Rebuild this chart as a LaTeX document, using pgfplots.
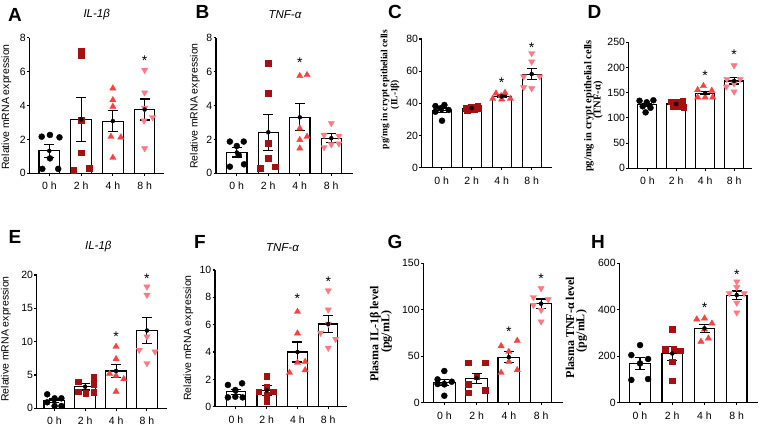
\documentclass[border=0pt]{standalone}
\usepackage{fontspec}
\setmainfont{Liberation Sans}
\newfontfamily\serifbf{Liberation Serif}
\usepackage{pgfplots}
\pgfplotsset{compat=1.18}

\definecolor{colB}{RGB}{166,16,16}
\definecolor{colC}{RGB}{250,65,65}
\definecolor{colD}{RGB}{255,120,130}

\pgfplotsset{
  panel/.style={scale only axis, clip=false, anchor=south west,
    axis x line*=bottom, axis y line*=left,
    axis line style={line width=1.1pt, black},
    tick style={black, line width=1.1pt}, tick align=outside, major tick length=2.5pt,
    xtick={0,1,2,3}, xticklabels={0 h,2 h,4 h,8 h}, ymin=0,
    ticklabel style={font=\fontsize{10.5}{10.5}\selectfont},
    yticklabel style={inner xsep=1pt}, xticklabel style={yshift=-3pt},
    /pgf/number format/assume math mode=true, scaled y ticks=false},
  barplot/.style={ybar, bar width=#1, fill=white, draw=black, line width=1.1pt},
  errplot/.style={only marks, mark=none, black,
    error bars/.cd, y dir=both, y explicit,
    error bar style={line width=1.1pt, black},
    error mark options={rotate=90, mark size=5pt, line width=1.1pt, black}},
  grpA/.style={only marks, mark=*, mark size=3pt, black},
  grpB/.style={only marks, mark=square*, mark size=2.8pt, colB},
  grpC/.style={only marks, mark=triangle*, mark size=3.6pt, colC},
  grpD/.style={only marks, mark=triangle*, mark size=3.6pt, colD, mark options={rotate=180}},
  stars/.style={only marks, mark=none, nodes near coords, point meta=explicit symbolic,
    nodes near coords style={anchor=center, yshift=-3pt, font=\fontsize{14}{14}\selectfont, black}},
}

\begin{document}
\begin{tikzpicture}[x=1pt,y=1pt]
\fill[white] (0,0) rectangle (760,426);
\path[use as bounding box] (0,0) rectangle (760,426);

% ---------------- A: IL-1beta mRNA ----------------
\begin{axis}[panel, at={(29.3pt,252.7pt)}, width=134.7pt, height=135.7pt,
  xmin=-0.63, xmax=3.61, ymax=8, ytick={0,2,4,6,8}]
\addplot[barplot=0.65] coordinates {(0,1.32) (1,3.18) (2,3.08) (3,3.76)};
\addplot[grpA] coordinates {(-0.24,2.16) (0.02,2.26) (0.32,2.12) (0.02,0.88) (-0.22,0.26) (0.28,0.26)};
\addplot[grpB] coordinates {(1,7.21) (1,6.98) (1,3.14) (1,1.22) (0.77,0.2) (1.25,0.3)};
\addplot[grpC] coordinates {(2,5.01) (2,4.32) (2,3.93) (1.94,2.16) (2.25,2.12) (2,0.92)};
\addplot[grpD] coordinates {(3,6.09) (3,4.76) (3,3.85) (3.25,3.3) (2.98,3.1) (3,1.47)};
\addplot[errplot] coordinates {(0,1.32) +- (0,0.39) (1,3.18) +- (0,1.31) (2,3.08) +- (0,0.64) (3,3.76) +- (0,0.62)};
\addplot[stars] coordinates {(3,6.84) [*]};
\end{axis}

% ---------------- B: TNF-alpha mRNA ----------------
\begin{axis}[panel, at={(216pt,252.7pt)}, width=136.7pt, height=135.7pt,
  xmin=-0.66, xmax=3.68, ymax=8, ytick={0,2,4,6,8}]
\addplot[barplot=0.65] coordinates {(0,1.23) (1,2.42) (2,3.30) (3,2.07)};
\addplot[grpA] coordinates {(-0.22,1.87) (0.22,1.87) (0,1.61) (0.06,1.08) (-0.22,0.39) (0.23,0.53)};
\addplot[grpB] coordinates {(1,6.49) (1,4.72) (1,1.77) (1,0.88) (0.74,0.29) (1.22,0.39)};
\addplot[grpC] coordinates {(2,5.74) (2.23,5.8) (2,2.65) (2.23,2.16) (2,1.97) (2,1.47)};
\addplot[grpD] coordinates {(3,2.95) (2.77,2.26) (3.24,2.2) (2.77,1.53) (3.24,1.75) (3,1.7)};
\addplot[errplot] coordinates {(0,1.23) +- (0,0.27) (1,2.42) +- (0,1.06) (2,3.30) +- (0,0.8) (3,2.07) +- (0,0.25)};
\addplot[stars] coordinates {(2,6.68) [*]};
\end{axis}

% ---------------- C: IL-1beta protein, crypt cells ----------------
\begin{axis}[panel, at={(421.7pt,258.3pt)}, width=130pt, height=128.7pt,
  xmin=-0.667, xmax=3.667, ymax=80, ytick={0,20,40,60,80}]
\addplot[barplot=0.64] coordinates {(0,35.7) (1,37.0) (2,44.3) (3,58.2)};
\addplot[grpA] coordinates {(-0.21,38.3) (0.09,39) (-0.04,36.9) (-0.21,34.8) (0.23,35.9) (0.01,29.2)};
\addplot[grpB] coordinates {(0.81,36.9) (0.98,37.9) (1.2,38.3) (0.84,35.9) (1.09,36.3) (1.22,36.9)};
\addplot[grpC] coordinates {(1.81,46.2) (2.11,46.6) (1.98,44.6) (1.7,42.9) (2,42.5) (2.29,42.9)};
\addplot[grpD] coordinates {(3,71.1) (3,65.9) (2.73,56.6) (3.27,56.6) (2.73,49.9) (3,49.3)};
\addplot[errplot] coordinates {(0,35.7) +- (0,1.44) (1,37.0) +- (0,0.4) (2,44.3) +- (0,0.9) (3,58.2) +- (0,3.5)};
\addplot[stars] coordinates {(2,54.5) [*] (3,76.3) [*]};
\end{axis}

% ---------------- D: TNF-alpha protein, crypt cells ----------------
\begin{axis}[panel, at={(628.7pt,257.7pt)}, width=123pt, height=126pt,
  xmin=-0.644, xmax=3.61, ymax=250, ytick={0,50,100,150,200,250}]
\addplot[barplot=0.66] coordinates {(0,125.7) (1,127.6) (2,149.3) (3,173.3)};
\addplot[grpA] coordinates {(-0.27,134) (-0.02,131) (0.21,135) (-0.16,123) (0.11,120) (-0.06,111)};
\addplot[grpB] coordinates {(0.83,132.3) (1.06,132.3) (1.23,133.6) (0.89,122.4) (1.11,123.7) (1.26,121)};
\addplot[grpC] coordinates {(1.94,163.4) (1.74,155.4) (2.23,154.1) (1.74,140.9) (2,140.9) (2.26,140.9)};
\addplot[grpD] coordinates {(3,204) (2.75,177) (3.21,177) (3,168) (2.73,162) (3,152)};
\addplot[errplot] coordinates {(0,125.7) +- (0,3.7) (1,127.6) +- (0,2.4) (2,149.3) +- (0,3.7) (3,173.3) +- (0,6)};
\addplot[stars] coordinates {(2,189.8) [*] (3,231.5) [*]};
\end{axis}

% ---------------- E: IL-1beta mRNA ----------------
\begin{axis}[panel, at={(36.7pt,17.7pt)}, width=130pt, height=133.3pt,
  xmin=-0.57, xmax=3.64, ymax=20, ytick={0,5,10,15,20}]
\addplot[barplot=0.67] coordinates {(0,1.12) (1,3.25) (2,5.6) (3,11.67)};
\addplot[grpA] coordinates {(-0.23,2.1) (0.01,1.5) (0.23,1.5) (-0.23,0.9) (0.01,0.35) (0.23,0.35)};
\addplot[grpB] coordinates {(0.77,4.0) (1.28,4.7) (1.28,3.6) (0.77,2.5) (1.02,2.3) (1.28,2.4)};
\addplot[grpC] coordinates {(2,9.25) (2,7.4) (1.79,5.2) (2,4.9) (2.25,4.4) (2,2.5)};
\addplot[grpD] coordinates {(3,18.25) (3,17.0) (3,10.75) (2.75,8.75) (3.26,8.5) (3,6.75)};
\addplot[errplot] coordinates {(0,1.12) +- (0,0.27) (1,3.25) +- (0,0.5) (2,5.6) +- (0,0.97) (3,11.67) +- (0,1.95)};
\addplot[stars] coordinates {(2,11.25) [*] (3,19.9) [*]};
\end{axis}

% ---------------- F: TNF-alpha mRNA ----------------
\begin{axis}[panel, at={(215pt,19.3pt)}, width=131.7pt, height=136.7pt,
  xmin=-0.68, xmax=3.6, ymax=10, ytick={0,2,4,6,8,10}]
\addplot[barplot=0.63] coordinates {(0,1.1) (1,1.19) (2,4.0) (3,6.05)};
\addplot[grpA] coordinates {(-0.26,1.59) (0.2,1.71) (-0.02,1.22) (-0.26,0.68) (-0.02,0.73) (0.22,0.68)};
\addplot[grpB] coordinates {(1,2.24) (1,1.46) (0.74,1.1) (1.22,1.1) (1,0.85) (1,0.37)};
\addplot[grpC] coordinates {(2,6.95) (2,5.37) (1.74,2.49) (2,3.22) (2.25,3.29) (2.25,2.68)};
\addplot[grpD] coordinates {(3,8.5) (3,7.1) (3,6.05) (2.75,5.4) (3.24,4.95) (3,4.3)};
\addplot[errplot] coordinates {(0,1.1) +- (0,0.19) (1,1.19) +- (0,0.38) (2,4.0) +- (0,0.73) (3,6.05) +- (0,0.61)};
\addplot[stars] coordinates {(2,8.1) [*] (3,9.34) [*]};
\end{axis}

% ---------------- G: plasma IL-1beta ----------------
\begin{axis}[panel, at={(423.3pt,23.3pt)}, width=139.4pt, height=139.4pt,
  xmin=-0.652, xmax=3.67, ymax=150, ytick={0,50,100,150}]
\addplot[barplot=0.67] coordinates {(0,21.5) (1,26.4) (2,49.0) (3,106.6)};
\addplot[grpA] coordinates {(0,34.1) (-0.21,25.1) (0.23,22.6) (-0.21,20.1) (0,19.7) (0,7.5)};
\addplot[grpB] coordinates {(0.74,43.1) (1.26,43.1) (1,28) (0.74,19.7) (0.74,10.8) (1.26,13.6)};
\addplot[grpC] coordinates {(2.26,66.7) (1.76,61) (2,54.9) (2,44.1) (2.26,35.2) (1.76,32.3)};
\addplot[grpD] coordinates {(3,123) (2.76,113.4) (3.22,111.2) (2.76,105.1) (3,99.7) (3,87.2)};
\addplot[errplot] coordinates {(0,21.5) +- (0,3.2) (1,26.4) +- (0,5.5) (2,49.0) +- (0,5.7) (3,106.6) +- (0,5.0)};
\addplot[stars] coordinates {(2,80) [*] (3,136.3) [*]};
\end{axis}

% ---------------- H: plasma TNF-alpha ----------------
\begin{axis}[panel, at={(619.3pt,23.3pt)}, width=138.7pt, height=139.4pt,
  xmin=-0.643, xmax=3.66, ymax=600, ytick={0,200,400,600}]
\addplot[barplot=0.64] coordinates {(0,168.3) (1,212) (2,320) (3,463)};
\addplot[grpA] coordinates {(0,248) (-0.27,205) (0.25,188) (0,169) (-0.27,98) (0.25,102)};
\addplot[grpB] coordinates {(1,317) (0.78,230) (1.04,230) (1.25,224) (1,177) (1,95)};
\addplot[grpC] coordinates {(1.76,359) (2,363) (2.23,341.6) (1.89,263) (2.12,277) (2,316)};
\addplot[grpD] coordinates {(3,521) (3,497) (2.77,471) (3.23,471) (3,430) (3,388)};
\addplot[errplot] coordinates {(0,168.3) +- (0,24.5) (1,212) +- (0,29.5) (2,320) +- (0,17) (3,463) +- (0,18)};
\addplot[stars] coordinates {(2,420) [*] (3,564) [*]};
\end{axis}

% ---------------- panel letters ----------------
\begin{scope}[every node/.style={font=\fontsize{19}{19}\selectfont\bfseries, inner sep=0pt}]
\node at (15,411.5) {A};
\node at (202.5,414.3) {B};
\node at (395,414.3) {C};
\node at (594.5,414.3) {D};
\node at (15,189.3) {E};
\node at (200,184.3) {F};
\node at (395,184.3) {G};
\node at (598,184.3) {H};
\end{scope}

% ---------------- gene titles ----------------
\begin{scope}[every node/.style={font=\fontsize{11.5}{12}\selectfont\itshape, inner sep=0pt}]
\node at (96.7,411) {IL-1β};
\node at (285,411) {TNF-α};
\node at (98.3,179.3) {IL-1β};
\node at (282.5,178) {TNF-α};
\end{scope}

% ---------------- y-axis titles ----------------
\begin{scope}[every node/.style={rotate=90, inner sep=0pt, font=\fontsize{10.5}{11}\selectfont}]
\node at (6.5,319) {Relative mRNA expression};
\node at (195,320) {Relative mRNA expression};
\node at (6,87) {Relative mRNA expression};
\node at (188.3,88) {Relative mRNA expression};
\end{scope}
\begin{scope}[every node/.style={rotate=90, inner sep=0pt}]
\node[font=\serifbf\bfseries\fontsize{9.5}{10}\selectfont] at (385,336.5) {pg/mg in crypt epithelial cells};
\node[font=\serifbf\bfseries\fontsize{9.5}{10}\selectfont] at (395,331.5) {(IL-1β)};
\node[font=\serifbf\bfseries\fontsize{10.5}{11}\selectfont] at (589,320) {pg/mg in crypt epithelial cells};
\node[font=\serifbf\bfseries\fontsize{10.5}{11}\selectfont] at (598,326) {(TNF-α)};
\node[font=\serifbf\bfseries\fontsize{12}{12}\selectfont] at (375.3,92) {Plasma IL-1β level};
\node[font=\serifbf\bfseries\fontsize{12}{12}\selectfont] at (386.5,94.3) {(pg/mL)};
\node[font=\serifbf\bfseries\fontsize{12}{12}\selectfont] at (570,98.5) {Plasma TNF-α level};
\node[font=\serifbf\bfseries\fontsize{12}{12}\selectfont] at (581.5,95) {(pg/mL)};
\end{scope}
\end{tikzpicture}
\end{document}
